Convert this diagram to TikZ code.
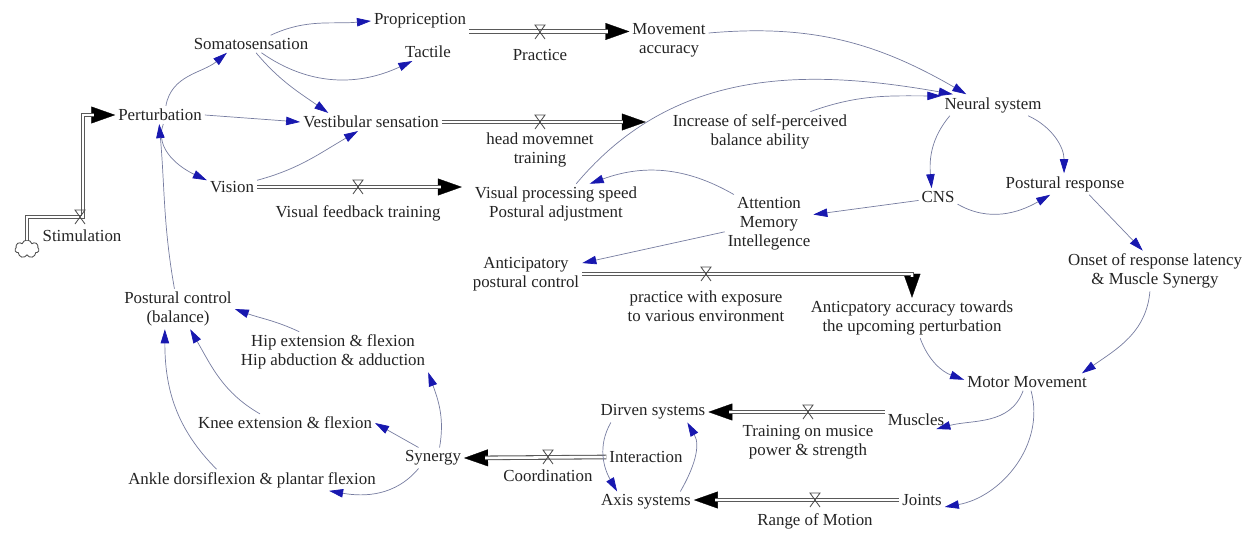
\documentclass[tikz,border=0pt]{standalone}
\usepackage{fontspec}
\setmainfont{Liberation Serif}
\usetikzlibrary{arrows.meta,shapes.symbols}

\definecolor{linkgray}{RGB}{118,124,160}
\definecolor{tipblue}{RGB}{24,24,175}
\definecolor{txtgray}{RGB}{35,35,35}

\tikzset{
  var/.style={text=txtgray, inner sep=2pt, align=center, font=\fontsize{12}{13.5}\selectfont},
  link/.style={draw=linkgray, line width=0.5pt, -{Triangle[length=10pt,width=6pt,color=tipblue]}},
  pipetip/.style={draw=black, line width=0.2pt, -{Triangle[length=17pt,width=12pt]}},
  pipe/.style={draw=black!65, line width=0.75pt, double=white, double distance=1.8pt, shorten >=15pt},
  valve/.pic={\draw[black!70, line width=0.6pt] (5,-7) -- (-5,7) -- (5,7) -- (-5,-7);}
}

\begin{document}
\begin{tikzpicture}[x=0.025cm,y=0.025cm]
\useasboundingbox (0,0) rectangle (1252,-533);

\node[var] (perturb) at (160,-115) {Perturbation};
\node[var] (somato) at (251,-44) {Somatosensation};
\node[var] (propr) at (420,-21) {Propriception};
\node[var] (tactile) at (428,-52) {Tactile};
\node[var] (vestib) at (371,-122) {Vestibular sensation};
\node[var] (vision) at (232,-187) {Vision};
\node[var] (mvacc) at (669,-40) {Movement\\accuracy};
\node[var] (incr) at (760,-132) {Increase of self-perceived\\balance ability};
\node[var] (neural) at (993,-105) {Neural system};
\node[var] (visproc) at (556,-204) {Visual processing speed\\Postural adjustment};
\node[var] (attn) at (769,-224) {Attention\\Memory\\Intellegence};
\node[var] (cns) at (938,-197) {CNS};
\node[var] (posresp) at (1065,-184) {Postural response};
\node[var] (onset) at (1155,-271) {Onset of response latency\\\& Muscle Synergy};
\node[var] (antpc) at (526,-274) {Anticipatory\\postural control};
\node[var] (antacc) at (912,-318) {Anticpatory accuracy towards\\the upcoming perturbation};
\node[var] (motor) at (1027,-382) {Motor Movement};
\node[var] (muscles) at (916,-420) {Muscles};
\node[var] (joints) at (922,-500) {Joints};
\node[var] (dirven) at (653,-412) {Dirven systems};
\node[var] (interact) at (646,-457) {Interaction};
\node[var] (axis) at (646,-502) {Axis systems};
\node[var] (synergy) at (433,-458) {Synergy};
\node[var] (hip) at (333,-352) {Hip extension \& flexion\\Hip abduction \& adduction};
\node[var] (knee) at (285,-423) {Knee extension \& flexion};
\node[var] (ankle) at (252,-480) {Ankle dorsiflexion \& plantar flexion};
\node[var] (postctrl) at (178,-309) {Postural control\\(balance)};

% flows
\node[cloud, draw=black!70, line width=0.6pt, cloud puffs=7, minimum width=0.6cm, minimum height=0.45cm, inner sep=0pt] (src) at (27,-249) {};
\coordinate (stimbend) at (83,-217);
\node[var] (stim) at (82,-236) {Stimulation};
\node[var] (practice) at (540,-55) {Practice};
\node[var] (headtr) at (540,-150) {head movemnet\\training};
\node[var] (visfb) at (358,-213) {Visual feedback training};
\node[var] (pracexp) at (706,-306) {practice with exposure\\to various environment};
\node[var] (musctr) at (808,-442) {Training on musice\\power \& strength};
\node[var] (coord) at (548,-476) {Coordination};
\node[var] (rom) at (815,-521) {Range of Motion};

\draw[pipetip] (src.north) |- (stimbend) |- (perturb.west);
\draw[pipe] (src.north) |- (stimbend) |- (perturb.west);
\draw[pipetip] (propr.south east) -- (mvacc.west |- propr.south east);
\draw[pipe] (propr.south east) -- (mvacc.west |- propr.south east);
\draw[pipetip, shorten >=0.6cm] (vestib.east) -- (incr.west |- vestib.east);
\draw[pipe, shorten >=33pt] (vestib.east) -- (incr.west |- vestib.east);
\draw[pipetip, shorten >=0.25cm] (vision.east) -- (visproc.west |- vision.east);
\draw[pipe, shorten >=22pt] (vision.east) -- (visproc.west |- vision.east);
\draw[pipetip] (antpc.east) -| (antacc.north);
\draw[pipe] (antpc.east) -| (antacc.north);
\draw[pipetip] (muscles.west |- dirven.east) -- (dirven.east);
\draw[pipe] (muscles.west |- dirven.east) -- (dirven.east);
\draw[pipetip] (interact.west) -- (synergy.east);
\draw[pipe] (interact.west) -- (synergy.east);
\draw[pipetip] (joints.west) -- (axis.east |- joints.west);
\draw[pipe] (joints.west) -- (axis.east |- joints.west);

\pic at (80,-217) {valve};
\pic at (540,-32) {valve};
\pic at (540,-122) {valve};
\pic at (358,-187) {valve};
\pic at (706,-274) {valve};
\pic at (808,-412) {valve};
\pic at (548,-457) {valve};
\pic at (815,-500) {valve};

% causal links
\draw[link] (perturb.57) to[out=80,in=-140] (somato.-160);
\draw[link] (somato.24) to[out=25,in=185] (propr.west);
\draw[link] (somato.-40) to[out=-35,in=205] (tactile.-150);
\draw[link] (somato.-60) to[out=-50,in=145] (vestib.168);
\draw[link] (perturb.east) -- (vestib.west);
\draw[link] (perturb.-70) to[out=-110,in=155] (vision.165);
\draw[link] (vision.15) to[out=15,in=-150] (vestib.-145);
\draw[link] (mvacc.10) to[out=5,in=150] (neural.158);
\draw[link] (visproc.45) to[out=50,in=170] (neural.165);
\draw[link] (incr.22) to[out=20,in=180] (neural.170);
\draw[link] (neural.-166) to[out=-130,in=95] (cns.126);
\draw[link] (neural.-17) to[out=-25,in=90] (posresp.95);
\draw[link] (cns.-20) to[out=-30,in=-150] (posresp.-144);
\draw[link] (cns.190) -- (attn.12);
\draw[link] (attn.140) to[out=150,in=20] (visproc.31);
\draw[link] (attn.-170) -- (antpc.11);
\draw[link] (posresp.-24) -- (onset.121);
\draw[link] (onset.-104) to[out=-95,in=35] (motor.9);
\draw[link] (antacc.-68) to[out=-70,in=160] (motor.178);
\draw[link] (motor.-114) to[out=-110,in=15] (muscles.-24);
\draw[link] (motor.-65) to[out=-75,in=10] (joints.-17);
\draw[link] (synergy.58) to[out=80,in=-70] (hip.south east);
\draw[link] (synergy.144) -- (knee.east);
\draw[link] (synergy.-144) to[out=-130,in=-10] (ankle.-8);
\draw[link] (hip.149) to[out=155,in=-20] (postctrl.east);
\draw[link] (knee.160) to[out=150,in=-60] (postctrl.-59);
\draw[link] (ankle.163) to[out=135,in=-90] (postctrl.-123);
\draw[link] (postctrl.100) to[out=100,in=-85] (perturb.-95);
\draw[link] (dirven.-166) to[out=-120,in=120] (axis.160);
\draw[link] (axis.17) to[out=60,in=-60] (dirven.-17);
\end{tikzpicture}
\end{document}
